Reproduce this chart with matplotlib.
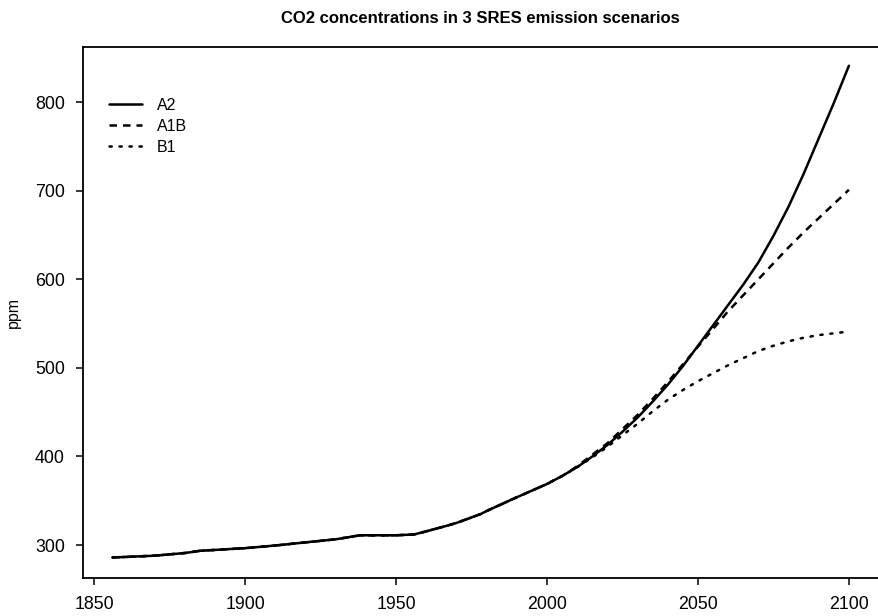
import numpy as np
import matplotlib
matplotlib.use("Agg")
import matplotlib.pyplot as plt

plt.rcParams['font.family'] = ['Liberation Sans', 'DejaVu Sans']

# Observed concentrations (ppm) up to 2000
hist_years = [1856, 1860, 1870, 1880, 1885, 1890, 1900, 1910, 1920, 1930,
              1938, 1945, 1950, 1956, 1960, 1967, 1970, 1978, 1980, 1989,
              1990, 2000]
hist_ppm = [286.0, 286.5, 288.0, 291.0, 293.5, 294.5, 296.5, 299.5, 303.0, 306.5,
            311.0, 311.0, 311.0, 312.0, 315.5, 322.0, 325.0, 335.0, 338.5, 352.5,
            354.0, 369.0]

# SRES projections, 2000-2100 every 5 years
scen_years = [2000, 2005, 2010, 2015, 2020, 2025, 2030, 2035, 2040, 2045, 2050,
              2055, 2060, 2065, 2070, 2075, 2080, 2085, 2090, 2095, 2100]
a2_ppm = [369, 378, 388, 400, 413, 428, 444, 462, 481, 502, 525,
          548, 571, 594, 619, 649, 682, 719, 759, 799, 841]
a1b_ppm = [369, 378, 389, 402, 415, 431, 447, 465, 484, 504, 524,
           544, 564, 582, 600, 618, 636, 653, 669, 685, 701]
b1_ppm = [369, 378, 388, 399, 411, 424, 437, 451, 464, 475, 485,
          494, 503, 511, 519, 525, 530, 534, 537, 539, 541]

xticks = [1850, 1900, 1950, 2000, 2050, 2100]
yticks = [300, 400, 500, 600, 700, 800]


def series(proj):
    return hist_years[:-1] + scen_years, hist_ppm[:-1] + proj


fig = plt.figure(figsize=(8.79, 6.16), dpi=100)
ax = fig.add_axes([0.0944, 0.0617, 0.905, 0.862])

lw = 1.8
x, y = series(a2_ppm)
ax.plot(x, y, color='black', lw=lw, solid_capstyle='round',
        solid_joinstyle='round', label='A2')
x, y = series(a1b_ppm)
ax.plot(x, y, color='black', lw=lw, dashes=(3.0, 2.4), dash_capstyle='butt',
        label='A1B')
x, y = series(b1_ppm)
ax.plot(x, y, color='black', lw=lw, dashes=(0.9, 3.1), dash_capstyle='round',
        label='B1')

# R-style axis ranges (4% padding)
ax.set_xlim(1846.2, 2109.8)
ax.set_ylim(262.8, 862.2)
ax.set_xticks(xticks)
ax.set_yticks(yticks)
ax.tick_params(direction='out', length=5, width=1.1, labelsize=12.8,
               pad=8, color='black')
for side in ['left', 'top', 'bottom']:
    ax.spines[side].set_linewidth(1.3)
ax.spines['right'].set_visible(False)

ax.set_ylabel('ppm', fontsize=11.5, labelpad=10)
ax.set_title('CO2 concentrations in 3 SRES emission scenarios',
             fontsize=12, fontweight='bold', pad=17)

ax.legend(loc='upper left', bbox_to_anchor=(0.0145, 0.931), frameon=False,
          fontsize=11.5, handlelength=2.06, handletextpad=0.94,
          labelspacing=0.36)

fig.savefig('out.png', dpi=100)
